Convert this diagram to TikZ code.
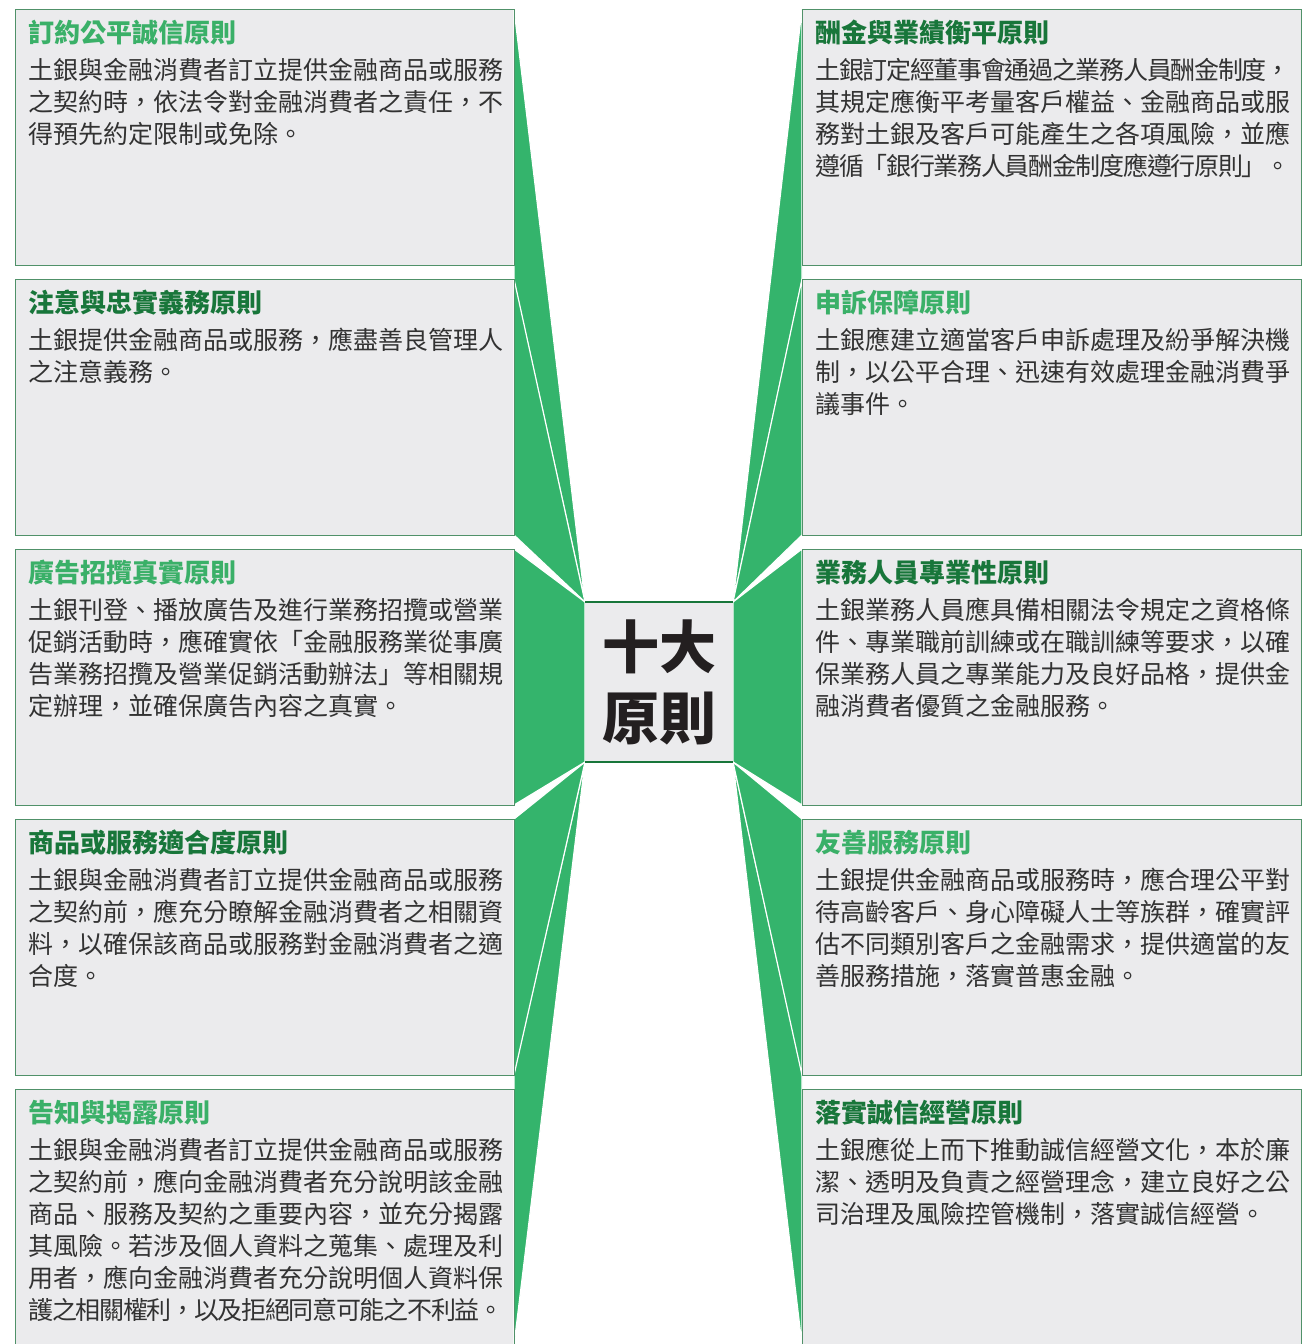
\documentclass[tikz,border=0pt]{standalone}
\usepackage{fontspec}
\setmainfont{Noto Sans CJK TC}
\usepackage{xcolor}
\definecolor{wedgegreen}{RGB}{52,180,108}
\definecolor{boxgray}{RGB}{235,235,237}
\definecolor{boxline}{RGB}{80,145,105}
\definecolor{titlelight}{RGB}{58,176,104}
\definecolor{titledark}{RGB}{24,118,58}
\definecolor{bodygray}{RGB}{50,50,50}
\definecolor{centerink}{RGB}{35,31,32}
\newcommand{\lite}[1]{\textcolor{titlelight}{#1}}
\newcommand{\dark}[1]{\textcolor{titledark}{#1}}
\def\spreadtok#1{\ifx\relax#1\else#1\hskip 0pt plus 1fil minus 1fil\expandafter\spreadtok\fi}
\newcommand{\full}[1]{\makebox[237.5pt][s]{\spreadtok#1\relax\unskip}}
\usepackage{tikz}
\usetikzlibrary{calc}
\usetikzlibrary{positioning}

\begin{document}
\begin{tikzpicture}[x=0.5pt, y=0.5pt,
    principle/.style={draw=boxline, fill=boxgray, line width=0.5pt, inner sep=0pt, outer sep=0pt,
      minimum width=249.5pt, minimum height=128pt},
    wedge/.style={fill=wedgegreen, draw=white, line width=0.6pt, line join=round},
    headtext/.style={anchor=west, inner sep=0pt, font=\fontsize{13pt}{16pt}\selectfont\bfseries},
    bodytext/.style={anchor=north west, inner sep=0pt, align=left, text=bodygray,
      font=\fontsize{12.5pt}{16pt}\selectfont},
    node distance=7pt]

      \useasboundingbox (0,0) rectangle (1313,-1344);

      \node [principle, anchor=north west] (L1) at (15,-9) {};
      \node [principle, below=of L1] (L2) {};
      \node [principle, below=of L2] (L3) {};
      \node [principle, below=of L3] (L4) {};
      \node [principle, below=of L4] (L5) {};

      \node [principle, anchor=north west] (R1) at (802,-9) {};
      \node [principle, below=of R1] (R2) {};
      \node [principle, below=of R2] (R3) {};
      \node [principle, below=of R3] (R4) {};
      \node [principle, below=of R4] (R5) {};

      \node [fill=boxgray, minimum width=74pt, minimum height=80pt, inner sep=0pt, outer sep=0pt]
      (C) at (659,-682) {};

      \fill [wedge] (L1.north east) -- ([yshift=-1pt]L2.north east) -- (C.north west) -- cycle;
      \fill [wedge] ([yshift=1pt]L4.south east) -- (L5.south east) -- (C.south west) -- cycle;
      \fill [wedge] (L2.north east) -- (L2.south east) -- (C.north west) -- cycle;
      \fill [wedge] (L4.north east) -- (L4.south east) -- (C.south west) -- cycle;
      \fill [wedge] (L3.north east) -- (L3.south east) -- (C.south west) -- (C.north west) -- cycle;

      \fill [wedge] (R1.north west) -- ([yshift=-1pt]R2.north west) -- (C.north east) -- cycle;
      \fill [wedge] ([yshift=1pt]R4.south west) -- (R5.south west) -- (C.south east) -- cycle;
      \fill [wedge] (R2.north west) -- (R2.south west) -- (C.north east) -- cycle;
      \fill [wedge] (R4.north west) -- (R4.south west) -- (C.south east) -- cycle;
      \fill [wedge] (R3.north west) -- (R3.south west) -- (C.south east) -- (C.north east) -- cycle;

      \foreach \b in {L1,L2,L3,L4,L5,R1,R2,R3,R4,R5}
      \draw [boxline, line width=0.5pt] (\b.north west) rectangle (\b.south east);

      \fill [boxgray] (C.north west) rectangle (C.south east);
      \draw [titledark, line width=0.6pt] (C.north west) -- (C.north east);
      \draw [titledark, line width=0.6pt] (C.south west) -- (C.south east);
      \node [align=center, text=centerink, font=\fontsize{28.5pt}{35.5pt}\selectfont\bfseries]
      (Ctext) at (C.center) {十大\\原則};

      \node [headtext] (L1title) at ([shift={(13,-24)}]L1.north west) {\lite{訂約公平誠信原則}};
      \node [bodytext] (L1text) at ([shift={(13,-49)}]L1.north west)
      {\full{土銀與金融消費者訂立提供金融商品或服務}\\
       \full{之契約時，依法令對金融消費者之責任，不}\\
       得預先約定限制或免除。};

      \node [headtext] (L2title) at ([shift={(13,-24)}]L2.north west) {\dark{注意與忠實義務原則}};
      \node [bodytext] (L2text) at ([shift={(13,-49)}]L2.north west)
      {\full{土銀提供金融商品或服務，應盡善良管理人}\\
       之注意義務。};

      \node [headtext] (L3title) at ([shift={(13,-24)}]L3.north west) {\lite{廣告招攬真實原則}};
      \node [bodytext] (L3text) at ([shift={(13,-49)}]L3.north west)
      {\full{土銀刊登、播放廣告及進行業務招攬或營業}\\
       \full{促銷活動時，應確實依「金融服務業從事廣}\\
       \full{告業務招攬及營業促銷活動辦法」等相關規}\\
       定辦理，並確保廣告內容之真實。};

      \node [headtext] (L4title) at ([shift={(13,-24)}]L4.north west) {\dark{商品或服務適合度原則}};
      \node [bodytext] (L4text) at ([shift={(13,-49)}]L4.north west)
      {\full{土銀與金融消費者訂立提供金融商品或服務}\\
       \full{之契約前，應充分瞭解金融消費者之相關資}\\
       \full{料，以確保該商品或服務對金融消費者之適}\\
       合度。};

      \node [headtext] (L5title) at ([shift={(13,-24)}]L5.north west) {\lite{告知與揭露原則}};
      \node [bodytext] (L5text) at ([shift={(13,-49)}]L5.north west)
      {\full{土銀與金融消費者訂立提供金融商品或服務}\\
       \full{之契約前，應向金融消費者充分說明該金融}\\
       \full{商品、服務及契約之重要內容，並充分揭露}\\
       \full{其風險。若涉及個人資料之蒐集、處理及利}\\
       \full{用者，應向金融消費者充分說明個人資料保}\\
       \full{護之相關權利，以及拒絕同意可能之不利益。}};

      \node [headtext] (R1title) at ([shift={(13,-24)}]R1.north west) {\dark{酬金與業績衡平原則}};
      \node [bodytext] (R1text) at ([shift={(13,-49)}]R1.north west)
      {\full{土銀訂定經董事會通過之業務人員酬金制度，}\\
       \full{其規定應衡平考量客戶權益、金融商品或服}\\
       \full{務對土銀及客戶可能產生之各項風險，並應}\\
       \full{遵循「銀行業務人員酬金制度應遵行原則」。}};

      \node [headtext] (R2title) at ([shift={(13,-24)}]R2.north west) {\lite{申訴保障原則}};
      \node [bodytext] (R2text) at ([shift={(13,-49)}]R2.north west)
      {\full{土銀應建立適當客戶申訴處理及紛爭解決機}\\
       \full{制，以公平合理、迅速有效處理金融消費爭}\\
       議事件。};

      \node [headtext] (R3title) at ([shift={(13,-24)}]R3.north west) {\dark{業務人員專業性原則}};
      \node [bodytext] (R3text) at ([shift={(13,-49)}]R3.north west)
      {\full{土銀業務人員應具備相關法令規定之資格條}\\
       \full{件、專業職前訓練或在職訓練等要求，以確}\\
       \full{保業務人員之專業能力及良好品格，提供金}\\
       融消費者優質之金融服務。};

      \node [headtext] (R4title) at ([shift={(13,-24)}]R4.north west) {\lite{友善服務原則}};
      \node [bodytext] (R4text) at ([shift={(13,-49)}]R4.north west)
      {\full{土銀提供金融商品或服務時，應合理公平對}\\
       \full{待高齡客戶、身心障礙人士等族群，確實評}\\
       \full{估不同類別客戶之金融需求，提供適當的友}\\
       善服務措施，落實普惠金融。};

      \node [headtext] (R5title) at ([shift={(13,-24)}]R5.north west) {\dark{落實誠信經營原則}};
      \node [bodytext] (R5text) at ([shift={(13,-49)}]R5.north west)
      {\full{土銀應從上而下推動誠信經營文化，本於廉}\\
       \full{潔、透明及負責之經營理念，建立良好之公}\\
       司治理及風險控管機制，落實誠信經營。};

    \end{tikzpicture}
\end{document}
